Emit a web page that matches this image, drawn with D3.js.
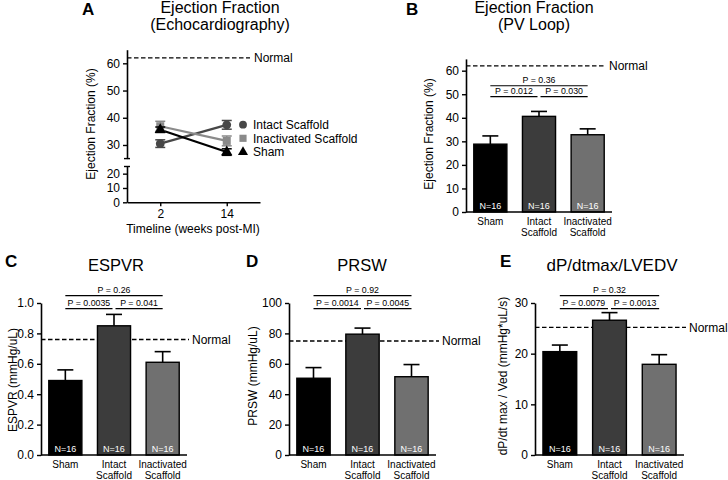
<!DOCTYPE html>
<html><head><meta charset="utf-8">
<script src="https://cdn.jsdelivr.net/npm/d3@7"></script>
<style>
body{margin:0;background:#fff}
svg{display:block}
text{font-family:"Liberation Sans",Arial,Helvetica,sans-serif;fill:#000}
</style>
</head><body>
<svg id="chart" width="728" height="480"></svg>
<script>
// ---------- DATA ----------
const groupKeys = ["Sham", "Intact", "Inactivated"];
const groupLabels = [["Sham"], ["Intact", "Scaffold"], ["Inactivated", "Scaffold"]];
const groupColors = ["#000000", "#3c3c3c", "#707070"];
const nLabels = ["N=16", "N=16", "N=16"];

// Panel A: echocardiography ejection fraction over time
const timepoints = ["2", "14"];
const echoSeries = ["Intact Scaffold", "Inactivated Scaffold", "Sham"];
const echoIntactMean = [30.5, 37.4];
const echoIntactSem = [1.4, 1.6];
const echoInactMean = [36.9, 31.5];
const echoInactSem = [1.8, 1.8];
const echoShamMean = [35.6, 27.4];
const echoShamSem = [1.0, 1.2];
const echoNormal = 62;
const echoTicksUpper = [30, 40, 50, 60];
const echoTicksLower = [0, 10, 20];

// Panel B: ejection fraction PV loop
const efPvMean = [28.8, 40.6, 32.8];
const efPvSem = [3.5, 2.1, 2.5];
const efPvNormal = 62;
const efPvP = ["P = 0.012", "P = 0.030", "P = 0.36"];
const efPvTicks = [0, 10, 20, 30, 40, 50, 60];

// Panel C: ESPVR
const espvrMean = [0.49, 0.85, 0.61];
const espvrSem = [0.07, 0.075, 0.07];
const espvrNormal = 0.76;
const espvrP = ["P = 0.0035", "P = 0.041", "P = 0.26"];
const espvrTicks = [0, 0.2, 0.4, 0.6, 0.8, 1.0];

// Panel D: PRSW
const prswMean = [50.5, 79.5, 51.5];
const prswSem = [7, 4, 8];
const prswNormal = 75;
const prswP = ["P = 0.0014", "P = 0.0045", "P = 0.92"];
const prswTicks = [0, 20, 40, 60, 80, 100];

// Panel E: dP/dtmax / LVEDV
const dpdtMean = [20.4, 26.6, 17.9];
const dpdtSem = [1.3, 1.5, 1.9];
const dpdtNormal = 25.2;
const dpdtP = ["P = 0.0079", "P = 0.0013", "P = 0.32"];
const dpdtTicks = [0, 10, 20, 30];

// ---------- DRAW ----------
const svg = d3.select("#chart");
const FONT = '"Liberation Sans",Arial,Helvetica,sans-serif';

function styleAxis(sel, size) {
  sel.selectAll("path.domain").attr("stroke", "#000").attr("stroke-width", 1.6);
  sel.selectAll(".tick line").attr("stroke", "#000").attr("stroke-width", 1.4);
  sel.selectAll(".tick text").attr("font-size", size || 12).attr("font-family", FONT).attr("fill", "#000");
}

function barPanel(o) {
  const g = svg.append("g");
  const x = d3.scaleBand().domain(groupKeys).range([o.x0, o.x1]).paddingInner(0.32).paddingOuter(0.16);
  const y = d3.scaleLinear().domain(o.domain).range([o.yb, o.yt]);

  // Normal dashed line
  g.append("line").attr("x1", o.x0).attr("x2", o.normalEnd)
    .attr("y1", y(o.normal)).attr("y2", y(o.normal))
    .attr("stroke", "#000").attr("stroke-width", 1.3).attr("stroke-dasharray", "4.5,2.5");
  g.append("text").attr("x", o.normalEnd + 3).attr("y", y(o.normal)).attr("dy", "0.35em")
    .attr("font-size", 12).text("Normal");

  // error bars (upper half only)
  groupKeys.forEach((k, i) => {
    const cx = x(k) + x.bandwidth() / 2;
    const top = y(o.mean[i] + o.sem[i]);
    g.append("line").attr("x1", cx).attr("x2", cx).attr("y1", y(o.mean[i])).attr("y2", top)
      .attr("stroke", "#000").attr("stroke-width", 1.6);
    g.append("line").attr("x1", cx - 8).attr("x2", cx + 8).attr("y1", top).attr("y2", top)
      .attr("stroke", "#000").attr("stroke-width", 1.6);
  });

  // bars
  g.selectAll("rect.bar").data(groupKeys).enter().append("rect")
    .attr("x", d => x(d)).attr("width", x.bandwidth())
    .attr("y", (d, i) => y(o.mean[i])).attr("height", (d, i) => y(0) - y(o.mean[i]))
    .attr("fill", (d, i) => groupColors[i]).attr("stroke", "#000").attr("stroke-width", 1.4);

  // N labels
  g.selectAll("text.n").data(groupKeys).enter().append("text")
    .attr("x", d => x(d) + x.bandwidth() / 2).attr("y", o.yb - 3)
    .attr("text-anchor", "middle").attr("font-size", 9).style("fill", "#fff")
    .text((d, i) => nLabels[i]);

  // y axis
  const ay = g.append("g").attr("transform", `translate(${o.x0},0)`)
    .call(d3.axisLeft(y).tickValues(o.ticks).tickSize(4).tickSizeOuter(0).tickFormat(o.fmt));
  styleAxis(ay, 12);

  // x axis line
  g.append("line").attr("x1", o.x0).attr("x2", o.x1).attr("y1", o.yb).attr("y2", o.yb)
    .attr("stroke", "#000").attr("stroke-width", 1.6);

  // x labels
  groupKeys.forEach((k, i) => {
    const t = g.append("text").attr("x", x(k) + x.bandwidth() / 2).attr("y", o.yb + 12.5)
      .attr("text-anchor", "middle").attr("font-size", 10);
    groupLabels[i].forEach((line, j) => {
      t.append("tspan").attr("x", x(k) + x.bandwidth() / 2).attr("dy", j === 0 ? 0 : 11).text(line);
    });
  });

  // brackets
  const c0 = x(groupKeys[0]) + x.bandwidth() / 2;
  const c1 = x(groupKeys[1]) + x.bandwidth() / 2;
  const c2 = x(groupKeys[2]) + x.bandwidth() / 2;
  const yTop = y(o.bracketTop), yLow = y(o.bracketLow);
  const br = [[c0, c1 - 1.5, yLow, o.p[0]], [c1 + 1.5, c2, yLow, o.p[1]], [c0, c2, yTop, o.p[2]]];
  br.forEach(b => {
    g.append("line").attr("x1", b[0]).attr("x2", b[1]).attr("y1", b[2]).attr("y2", b[2])
      .attr("stroke", "#000").attr("stroke-width", 1.2);
    g.append("text").attr("x", (b[0] + b[1]) / 2).attr("y", b[2] - 3)
      .attr("text-anchor", "middle").attr("font-size", 8.8).text(b[3]);
  });

  // y label
  g.append("text").attr("transform", `translate(${o.ylx},${o.yly}) rotate(-90)`)
    .attr("text-anchor", "middle").attr("font-size", 12).text(o.ylabel);

  // title
  const tt = g.append("text").attr("x", o.tx).attr("y", o.ty).attr("text-anchor", "middle").attr("font-size", o.tsize);
  o.title.forEach((line, j) => tt.append("tspan").attr("x", o.tx).attr("dy", j === 0 ? 0 : 17).text(line));
  g.append("text").attr("x", o.lx).attr("y", o.ly).attr("font-size", 17).attr("font-weight", "bold").text(o.letter);
}

// ---------- Panel A ----------
(function () {
  const g = svg.append("g");
  const x = d3.scalePoint().domain(timepoints).range([127, 260]).padding(0.5);
  const yUp = d3.scaleLinear().domain([25, 65]).range([158.6, 49.7]);
  const yLo = d3.scaleLinear().domain([0, 25]).range([202.3, 166.5]);

  // Normal line
  g.append("line").attr("x1", 127).attr("x2", 250).attr("y1", yUp(echoNormal)).attr("y2", yUp(echoNormal))
    .attr("stroke", "#000").attr("stroke-width", 1.3).attr("stroke-dasharray", "4.5,2.5");
  g.append("text").attr("x", 254).attr("y", yUp(echoNormal)).attr("dy", "0.35em").attr("font-size", 12).text("Normal");

  const ser = [
    { name: echoSeries[0], mean: echoIntactMean, sem: echoIntactSem, color: "#474747", sym: d3.symbolCircle, size: 60 },
    { name: echoSeries[1], mean: echoInactMean, sem: echoInactSem, color: "#8a8a8a", sym: d3.symbolSquare, size: 64 },
    { name: echoSeries[2], mean: echoShamMean, sem: echoShamSem, color: "#000000", sym: d3.symbolTriangle, size: 55 }
  ];
  const line = d3.line().x((d, i) => x(timepoints[i])).y(d => yUp(d));
  ser.forEach(s => {
    g.append("path").attr("d", line(s.mean)).attr("fill", "none").attr("stroke", s.color).attr("stroke-width", 2.2);
  });
  ser.forEach(s => {
    s.mean.forEach((m, i) => {
      const cx = x(timepoints[i]);
      const y1 = yUp(m - s.sem[i]), y2 = yUp(m + s.sem[i]);
      g.append("line").attr("x1", cx).attr("x2", cx).attr("y1", y1).attr("y2", y2).attr("stroke", s.color).attr("stroke-width", 1.5);
      [y1, y2].forEach(yy => g.append("line").attr("x1", cx - 5).attr("x2", cx + 5).attr("y1", yy).attr("y2", yy)
        .attr("stroke", s.color).attr("stroke-width", 1.5));
      g.append("path").attr("d", d3.symbol(s.sym, s.size)()).attr("transform", `translate(${cx},${yUp(m)})`).attr("fill", s.color);
    });
  });

  // legend
  const legY = [124.7, 138.3, 152];
  ser.forEach((s, i) => {
    g.append("path").attr("d", d3.symbol(s.sym, s.size * 0.8)()).attr("transform", `translate(243,${legY[i]})`).attr("fill", s.color);
    g.append("text").attr("x", 253).attr("y", legY[i]).attr("dy", "0.35em").attr("font-size", 12).text(s.name);
  });

  // axes
  const au = g.append("g").attr("transform", "translate(127,0)")
    .call(d3.axisLeft(yUp).tickValues(echoTicksUpper).tickSize(4).tickSizeOuter(0));
  styleAxis(au, 12);
  const al = g.append("g").attr("transform", "translate(127,0)")
    .call(d3.axisLeft(yLo).tickValues(echoTicksLower).tickSize(4).tickSizeOuter(0));
  styleAxis(al, 12);
  // break caps
  [yUp(25), yLo(25)].forEach(yy => g.append("line").attr("x1", 124).attr("x2", 130).attr("y1", yy).attr("y2", yy)
    .attr("stroke", "#000").attr("stroke-width", 1.4));
  const ax = g.append("g").attr("transform", "translate(0,202.3)")
    .call(d3.axisBottom(x).tickSize(4).tickSizeOuter(0));
  styleAxis(ax, 12);

  g.append("text").attr("x", 193).attr("y", 233).attr("text-anchor", "middle").attr("font-size", 12).text("Timeline (weeks post-MI)");
  g.append("text").attr("transform", "translate(95,124) rotate(-90)").attr("text-anchor", "middle").attr("font-size", 12).text("Ejection Fraction (%)");
  const tt = g.append("text").attr("x", 220).attr("y", 13).attr("text-anchor", "middle").attr("font-size", 16);
  tt.append("tspan").attr("x", 220).attr("dy", 0).text("Ejection Fraction");
  tt.append("tspan").attr("x", 220).attr("dy", 17).text("(Echocardiography)");
  g.append("text").attr("x", 82).attr("y", 15).attr("font-size", 17).attr("font-weight", "bold").text("A");
})();

// ---------- Panels B-E ----------
barPanel({ x0: 466, x1: 612, yb: 212, yt: 58.9, domain: [0, 65], ticks: efPvTicks, fmt: d3.format("d"),
  mean: efPvMean, sem: efPvSem, normal: efPvNormal, normalEnd: 606, p: efPvP, bracketTop: 53.6, bracketLow: 49,
  ylabel: "Ejection Fraction (%)", ylx: 433, yly: 134, title: ["Ejection Fraction", "(PV Loop)"], tx: 534, ty: 13, tsize: 16,
  letter: "B", lx: 406, ly: 15 });

barPanel({ x0: 41, x1: 187, yb: 455, yt: 303, domain: [0, 1], ticks: espvrTicks, fmt: d3.format(".1f"),
  mean: espvrMean, sem: espvrSem, normal: espvrNormal, normalEnd: 189, p: espvrP, bracketTop: 1.048, bracketLow: 0.963,
  ylabel: "ESPVR (mmHg/uL)", ylx: 17, yly: 380, title: ["ESPVR"], tx: 116, ty: 271, tsize: 16.5,
  letter: "C", lx: 5, ly: 267 });

barPanel({ x0: 289, x1: 436, yb: 455, yt: 303, domain: [0, 100], ticks: prswTicks, fmt: d3.format("d"),
  mean: prswMean, sem: prswSem, normal: prswNormal, normalEnd: 439, p: prswP, bracketTop: 104.8, bracketLow: 96.3,
  ylabel: "PRSW (mmHg/uL)", ylx: 257, yly: 376, title: ["PRSW"], tx: 362, ty: 271, tsize: 16.5,
  letter: "D", lx: 246, ly: 267 });

barPanel({ x0: 535, x1: 684, yb: 455, yt: 303, domain: [0, 30], ticks: dpdtTicks, fmt: d3.format("d"),
  mean: dpdtMean, sem: dpdtSem, normal: dpdtNormal, normalEnd: 686, p: dpdtP, bracketTop: 31.44, bracketLow: 28.9,
  ylabel: "dP/dt max / Ved (mmHg*uL/s)", ylx: 507, yly: 376, title: ["dP/dtmax/LVEDV"], tx: 612, ty: 271, tsize: 17,
  letter: "E", lx: 500, ly: 267 });
</script>
</body></html>
